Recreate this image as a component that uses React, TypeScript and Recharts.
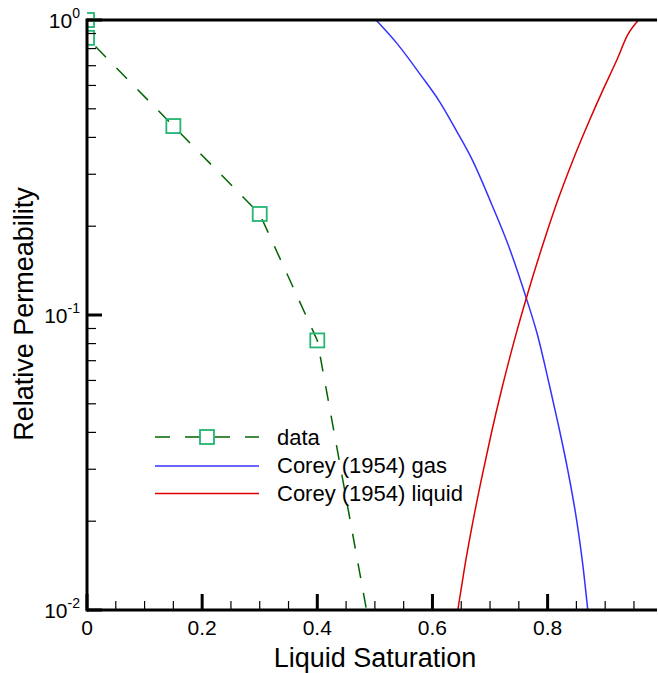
import { LineChart, Line, XAxis, YAxis, ReferenceLine } from "recharts";

// measured data (squares + dashed line); last point lies below the plot floor
const dataS = [0, 0, 0.15, 0.3, 0.4, 0.5];
const dataK = [1, 0.87, 0.437, 0.22, 0.082, 0.007];

// Corey (1954) gas curve
const gasS = [0.502, 0.539, 0.581, 0.612, 0.642, 0.67, 0.703, 0.731, 0.763, 0.782, 0.803, 0.818, 0.835, 0.85, 0.861, 0.87];
const gasK = [1, 0.83, 0.645, 0.53, 0.42, 0.333, 0.237, 0.174, 0.114, 0.0862, 0.058, 0.043, 0.0298, 0.0204, 0.0143, 0.0099];

// Corey (1954) liquid curve
const liqS = [0.644, 0.656, 0.67, 0.685, 0.702, 0.719, 0.746, 0.763, 0.798, 0.817, 0.843, 0.873, 0.895, 0.92, 0.939, 0.958];
const liqK = [0.01, 0.014, 0.0198, 0.0277, 0.0395, 0.0547, 0.0873, 0.114, 0.189, 0.243, 0.331, 0.458, 0.573, 0.73, 0.89, 1];

const xTicks = [0, 0.05, 0.1, 0.15, 0.2, 0.25, 0.3, 0.35, 0.4, 0.45, 0.5, 0.55, 0.6, 0.65, 0.7, 0.75, 0.8, 0.85, 0.9, 0.95];
const xMajor = [0, 0.2, 0.4, 0.6, 0.8];
const yTicks = [
  0.01, 0.02, 0.03, 0.04, 0.05, 0.06, 0.07, 0.08, 0.09,
  0.1, 0.2, 0.3, 0.4, 0.5, 0.6, 0.7, 0.8, 0.9, 1,
];
const yDecades = [1, 0.1, 0.01];
const yExponents = ["0", "-1", "-2"];

const legendLabels = ["data", "Corey (1954) gas", "Corey (1954) liquid"];

const FONT = "Arial, 'Liberation Sans', sans-serif";
const GREEN_LINE = "#006400";
const GREEN_MARK = "#22b573";
const BLUE = "#3333ff";
const RED = "#dd0000";
const Y_AXIS_W = 87;
const TOP = 20;
const BOTTOM = 610;

const toRows = (s: number[], k: number[]) => s.map((v, i) => ({ s: v, k: k[i] }));
const dataRows = toRows(dataS, dataK);
const markerRows = dataRows.filter((r) => r.k >= 0.01);
const gasRows = toRows(gasS, gasK);
const liqRows = toRows(liqS, liqK);

const near = (a: number, b: number) => Math.abs(a - b) < 1e-6;

function XTick(props: any) {
  const { x, y, payload } = props;
  const v = payload.value;
  const major = xMajor.some((m) => near(m, v));
  return (
    <g>
      <line x1={x} y1={y} x2={x} y2={y - (major ? 16 : 9)} stroke="#000" strokeWidth={major ? 3 : 1.2} />
      {major && (
        <text x={x} y={y + 25} textAnchor="middle" fontSize={21} fontFamily={FONT} fill="#000">
          {v === 0 ? "0" : v.toFixed(1)}
        </text>
      )}
    </g>
  );
}

function YTick(props: any) {
  const { y, payload } = props;
  const x = Y_AXIS_W;
  const v = payload.value;
  const idx = yDecades.findIndex((d) => near(d, v));
  const major = idx >= 0;
  return (
    <g>
      <line x1={x} y1={y} x2={x + (major ? 15 : 9)} y2={y} stroke="#000" strokeWidth={major ? 3 : 1.2} />
      {major && (
        <text x={x - 7} y={y + 8} textAnchor="end" fontSize={21} fontFamily={FONT} fill="#000">
          <tspan>10</tspan>
          <tspan dy={-10} fontSize={14}>{yExponents[idx]}</tspan>
        </text>
      )}
    </g>
  );
}

function Square(props: any) {
  const { cx, cy } = props;
  return (
    <rect x={cx - 7} y={cy - 7} width={14} height={14} fill="none" stroke={GREEN_MARK} strokeWidth={1.8} />
  );
}

export default function App() {
  return (
    <div style={{ position: "absolute", left: 0, top: 0, width: 658, height: 673, background: "#fff" }}>
      <LineChart width={658} height={673} margin={{ top: TOP, right: 1, bottom: 0, left: 0 }}>
        <XAxis
          xAxisId="x"
          dataKey="s"
          type="number"
          domain={[0, 0.99]}
          allowDataOverflow
          ticks={xTicks}
          interval={0}
          height={63}
          tickSize={0}
          tickMargin={0}
          tickLine={false}
          tick={(p: any) => <XTick {...p} />}
          axisLine={{ stroke: "#000", strokeWidth: 3 }}
        />
        <YAxis
          yAxisId="y"
          type="number"
          scale="log"
          domain={[0.01, 1]}
          allowDataOverflow
          ticks={yTicks}
          interval={0}
          width={Y_AXIS_W}
          tickSize={0}
          tickMargin={0}
          tickLine={false}
          tick={(p: any) => <YTick {...p} />}
          axisLine={false}
        />
        <YAxis yAxisId="m" type="number" scale="log" domain={[0.01, 1]} hide />
        <Line
          xAxisId="x"
          yAxisId="y"
          data={gasRows}
          dataKey="k"
          type="monotone"
          stroke={BLUE}
          strokeWidth={1.5}
          dot={false}
          activeDot={false}
          isAnimationActive={false}
        />
        <Line
          xAxisId="x"
          yAxisId="y"
          data={liqRows}
          dataKey="k"
          type="monotone"
          stroke={RED}
          strokeWidth={1.5}
          dot={false}
          activeDot={false}
          isAnimationActive={false}
        />
        <Line
          xAxisId="x"
          yAxisId="y"
          data={dataRows}
          dataKey="k"
          stroke={GREEN_LINE}
          strokeWidth={1.5}
          strokeDasharray="15 15"
          dot={false}
          activeDot={false}
          isAnimationActive={false}
        />
        <Line
          xAxisId="x"
          yAxisId="m"
          data={markerRows}
          dataKey="k"
          stroke="none"
          dot={(p: any) => <Square {...p} key={`sq-${p.index}`} />}
          activeDot={false}
          isAnimationActive={false}
        />
        <ReferenceLine xAxisId="x" yAxisId="y" y={1} stroke="#000" strokeWidth={3} />
      </LineChart>
      <svg
        width={658}
        height={673}
        style={{ position: "absolute", left: 0, top: 0, pointerEvents: "none" }}
      >
        <line x1={Y_AXIS_W} y1={TOP - 1.5} x2={Y_AXIS_W} y2={BOTTOM + 1.5} stroke="#000" strokeWidth={3} />
        <line x1={155} y1={437} x2={259} y2={437} stroke={GREEN_LINE} strokeWidth={1.5} strokeDasharray="15 15" />
        <rect x={200} y={430} width={14} height={14} fill="#fff" stroke={GREEN_MARK} strokeWidth={1.8} />
        <line x1={155} y1={466} x2={259} y2={466} stroke={BLUE} strokeWidth={1.5} />
        <line x1={155} y1={493.5} x2={259} y2={493.5} stroke={RED} strokeWidth={1.5} />
        {legendLabels.map((t, i) => (
          <text key={t} x={277} y={445 + i * 28} fontSize={22} fontFamily={FONT} fill="#000">
            {t}
          </text>
        ))}
        <text x={375} y={667} textAnchor="middle" fontSize={27} fontFamily={FONT} fill="#000">
          Liquid Saturation
        </text>
        <text
          x={0}
          y={0}
          transform="translate(33,314) rotate(-90)"
          textAnchor="middle"
          fontSize={27}
          fontFamily={FONT}
          fill="#000"
        >
          Relative Permeability
        </text>
      </svg>
    </div>
  );
}
